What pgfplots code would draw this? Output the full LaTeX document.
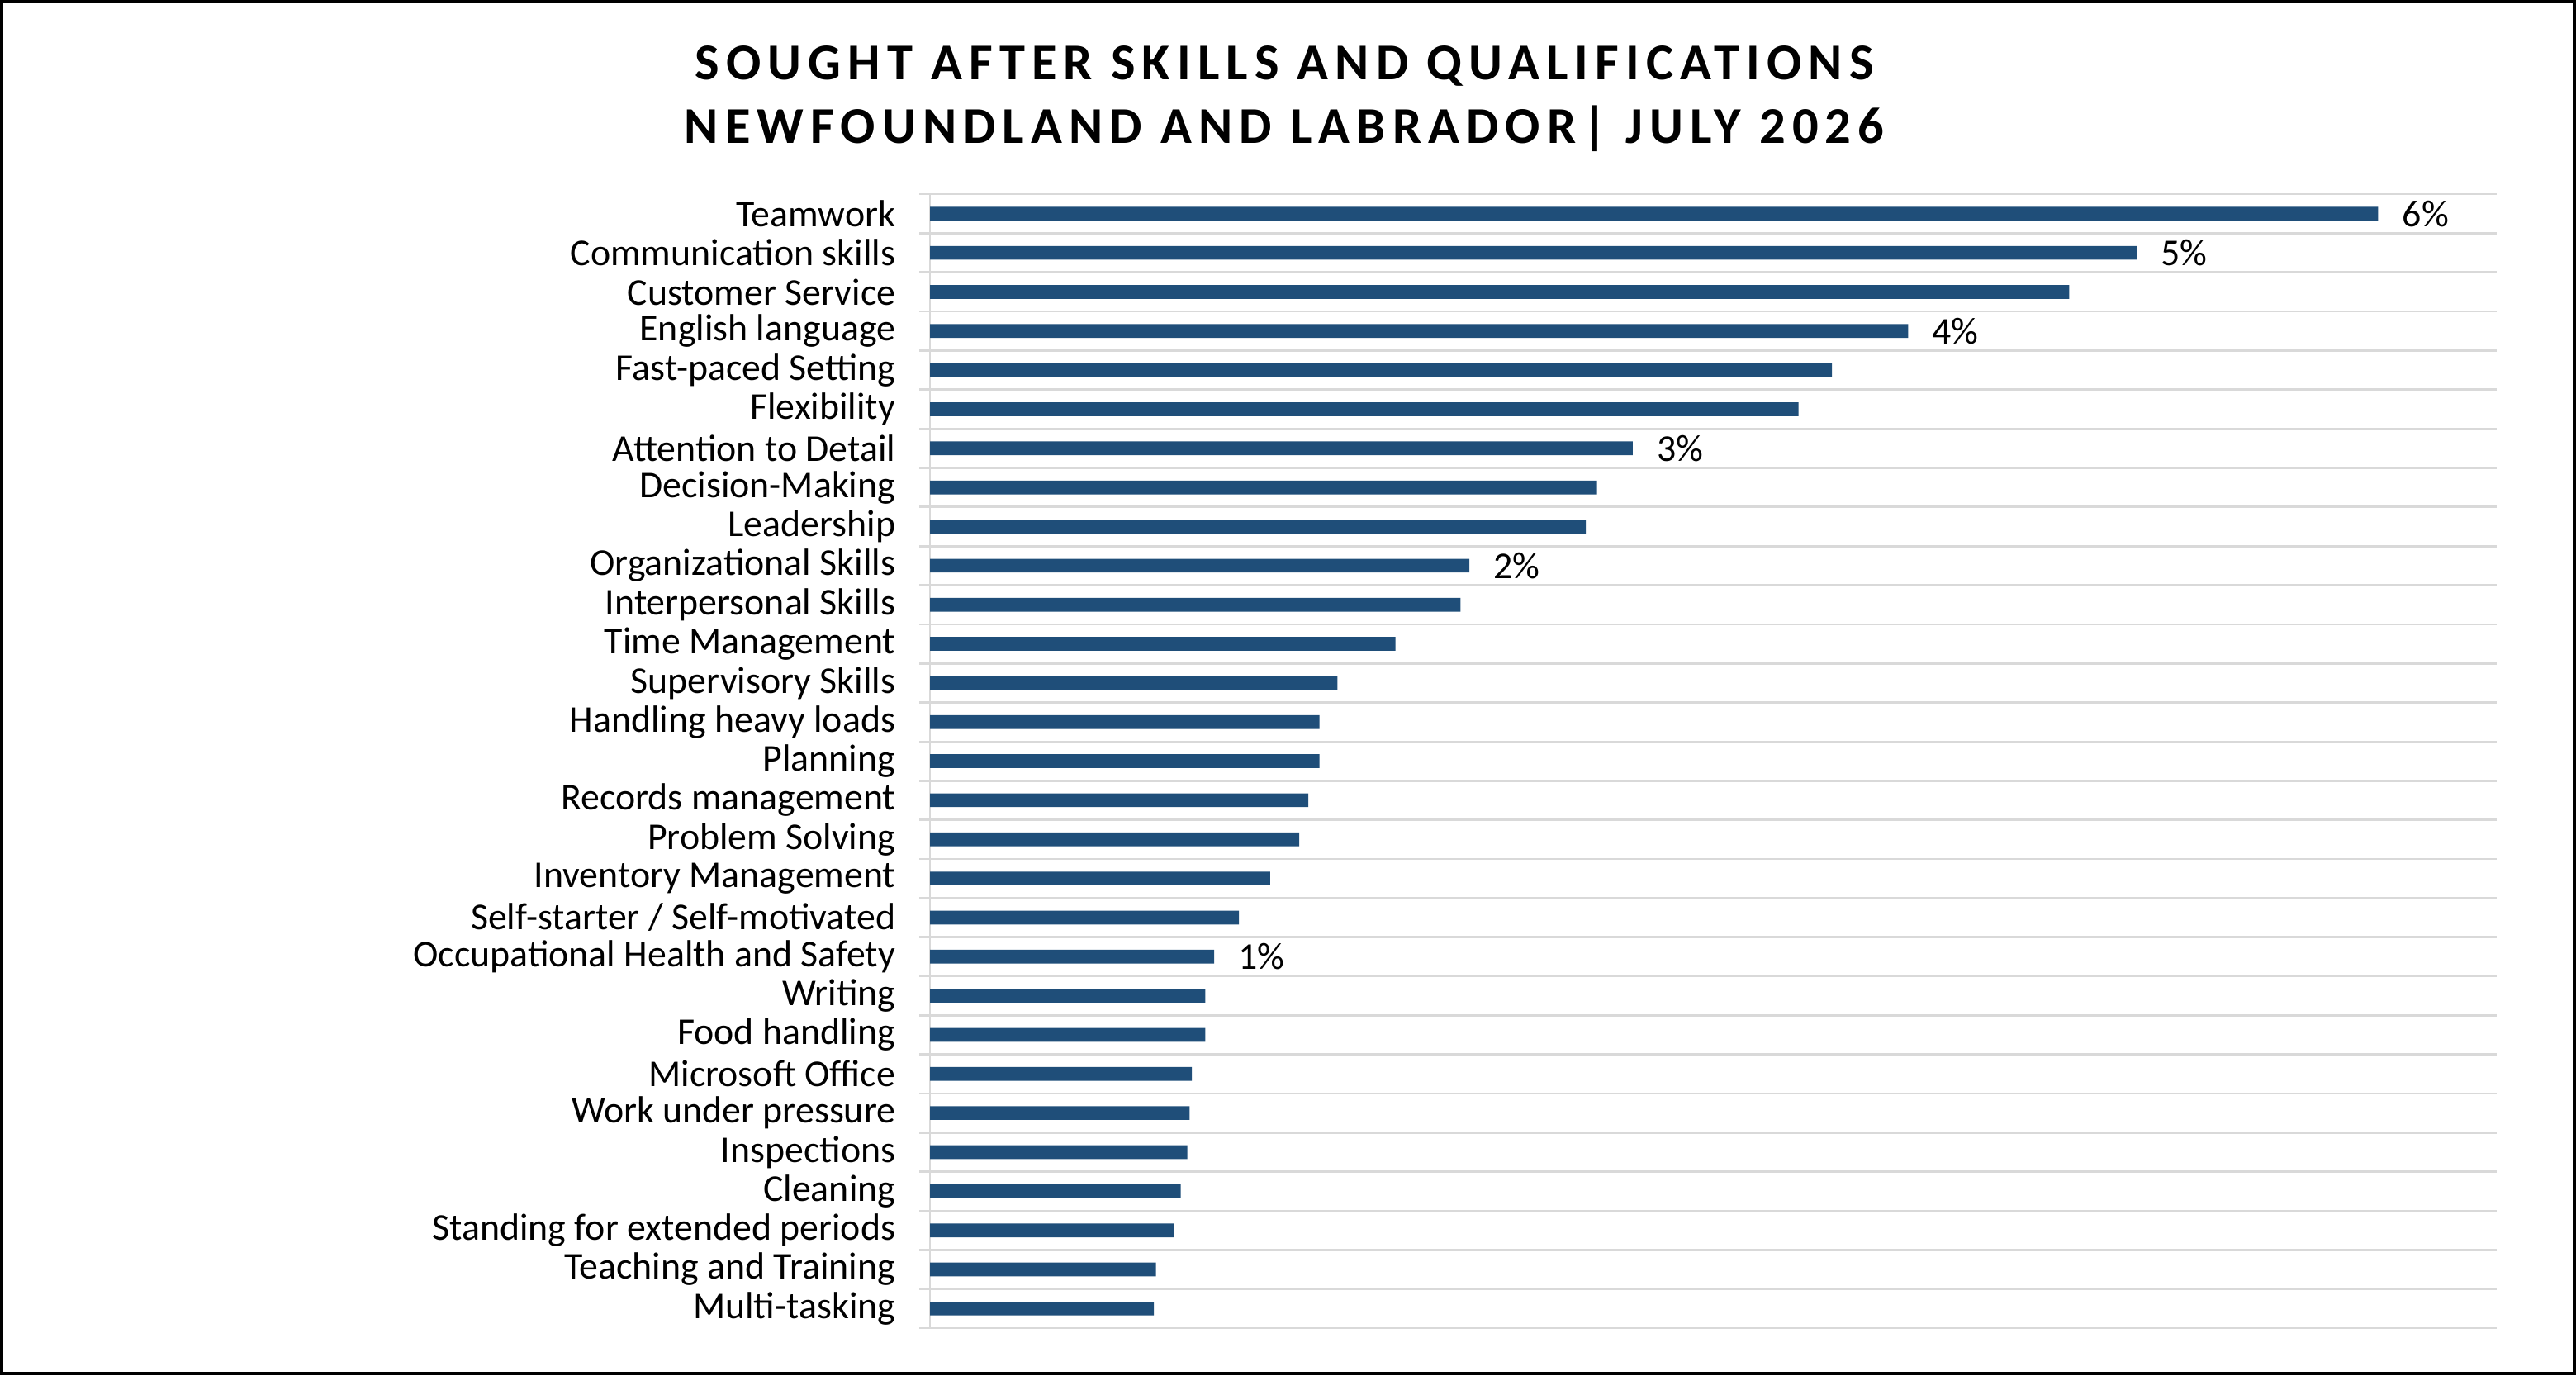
\documentclass[border=0pt]{standalone}
\usepackage{fontspec}
\setmainfont{Carlito}
\newfontfamily\titlefont[LetterSpace=13]{Carlito}
\usepackage{pgfplots}
\usepackage{pgfplotstable}
\pgfplotsset{compat=1.18}
\definecolor{barblue}{HTML}{1F4E79}
\definecolor{gridgray}{HTML}{D9D9D9}

% share of postings (%), label shown only on some bars
\pgfplotstableread[col sep=comma]{
skill,share,lbl
Teamwork,6.47,6\%
Communication skills,5.39,5\%
Customer Service,5.09,{}
English language,4.37,4\%
Fast-paced Setting,4.03,{}
Flexibility,3.88,{}
Attention to Detail,3.14,3\%
Decision-Making,2.98,{}
Leadership,2.93,{}
Organizational Skills,2.41,2\%
Interpersonal Skills,2.37,{}
Time Management,2.08,{}
Supervisory Skills,1.82,{}
Handling heavy loads,1.74,{}
Planning,1.74,{}
Records management,1.69,{}
Problem Solving,1.65,{}
Inventory Management,1.52,{}
Self-starter / Self-motivated,1.38,{}
Occupational Health and Safety,1.27,1\%
Writing,1.23,{}
Food handling,1.23,{}
Microsoft Office,1.17,{}
Work under pressure,1.16,{}
Inspections,1.15,{}
Cleaning,1.12,{}
Standing for extended periods,1.09,{}
Teaching and Training,1.01,{}
Multi-tasking,1.00,{}
}\skills

\begin{document}
\begin{tikzpicture}
\useasboundingbox (0,0) rectangle (748.56pt,399.6pt);
\draw[black, line width=1pt] (0.5pt,0.5pt) rectangle (748.06pt,399.1pt);

\node[align=center, font=\fontsize{15}{18.7}\selectfont\titlefont\bfseries]
  at (373.2pt,370.9pt)
  {SOUGHT AFTER SKILLS AND QUALIFICATIONS\\NEWFOUNDLAND AND LABRADOR| JULY 2026};

\begin{axis}[
    at={(270.24pt,13.68pt)}, anchor=south west,
    scale only axis,
    width=455.3pt, height=329.5pt,
    xbar, bar width=4pt,
    xmin=0, xmax=7,
    ymin=-0.5, ymax=28.5,
    y dir=reverse,
    axis x line=none,
    axis y line*=left,
    xtick=\empty,
    ytick={0,...,28},
    yticklabels from table={\skills}{skill},
    minor ytick={-0.5,0.5,...,28.5},
    yminorgrids=true,
    minor y grid style={gridgray, line width=0.65pt},
    tick align=outside,
    major tick length=0pt,
    minor tick length=3.1pt,
    minor tick style={gridgray, line width=0.65pt},
    axis line style={gridgray, line width=0.7pt},
    y tick label style={font=\fontsize{11}{13}\selectfont, xshift=-6.5pt},
    point meta=explicit symbolic,
    nodes near coords,
    nodes near coords style={font=\fontsize{11}{13}\selectfont, anchor=west, xshift=3.5pt, text=black},
    clip=false,
]
\addplot[fill=barblue, draw=none] table[x=share, y expr=\coordindex, meta=lbl] {\skills};
\end{axis}
\end{tikzpicture}
\end{document}
